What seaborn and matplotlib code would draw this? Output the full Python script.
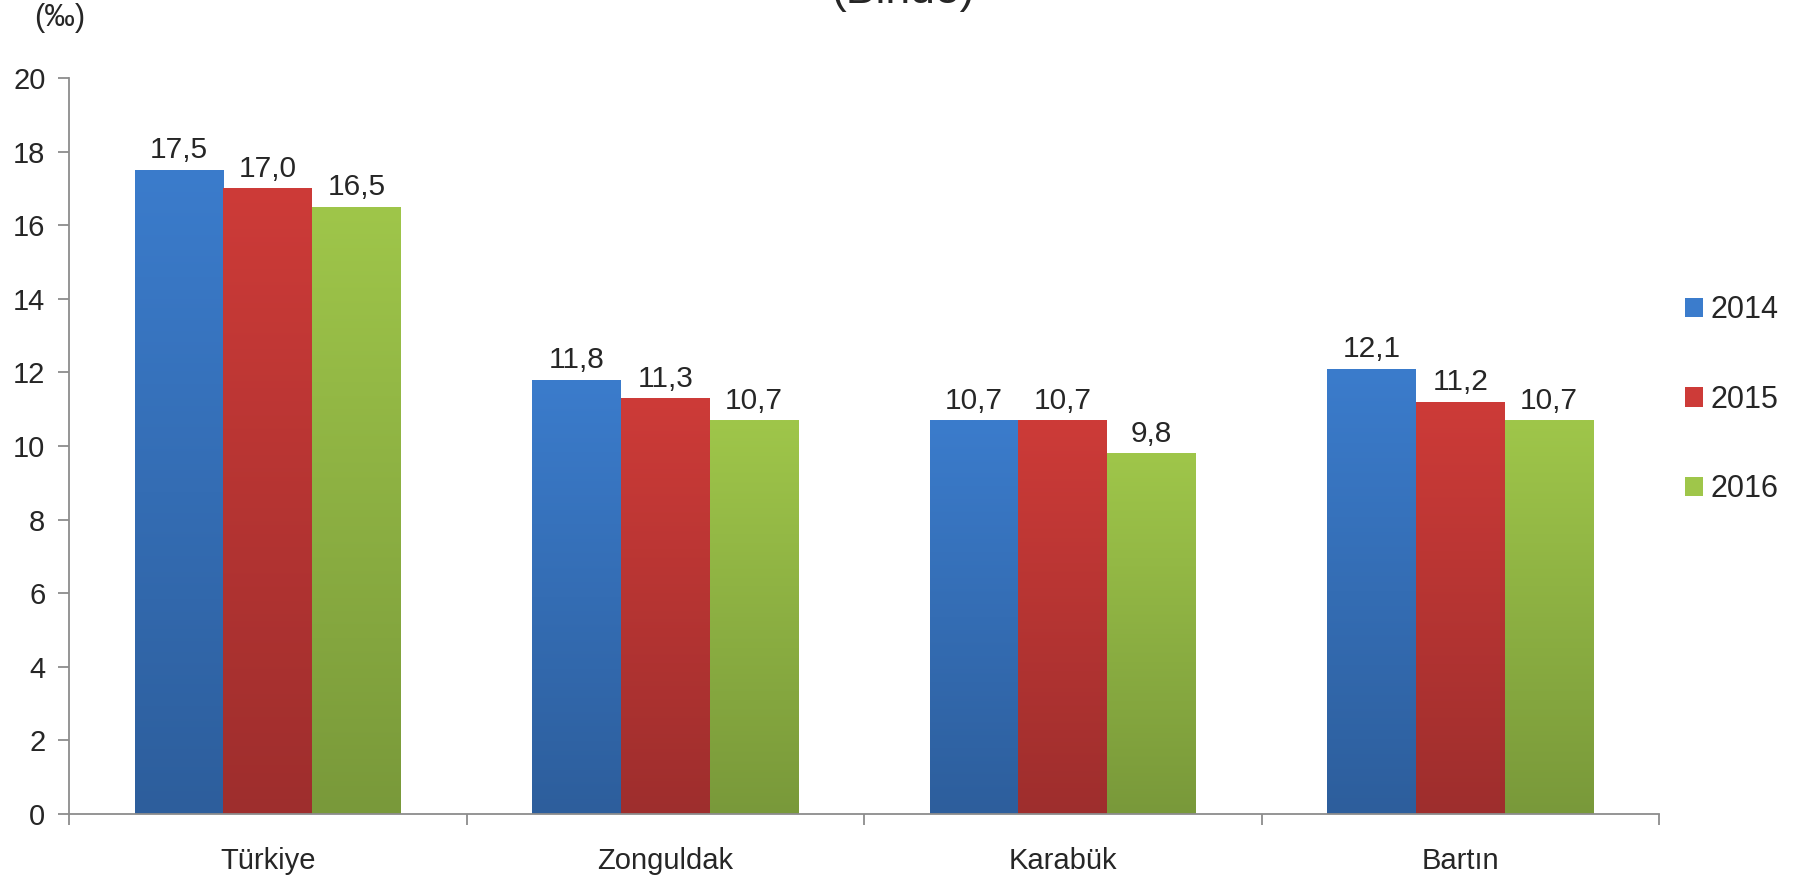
import numpy as np
import pandas as pd
import matplotlib.pyplot as plt
import seaborn as sns
from matplotlib.colors import LinearSegmentedColormap
from matplotlib.patches import Patch

sns.set_theme(style="white")
plt.rcParams['font.family'] = ['Liberation Sans', 'DejaVu Sans']

regions = ['Türkiye', 'Zonguldak', 'Karabük', 'Bartın']
years = ['2014', '2015', '2016']
v2014 = [17.5, 11.8, 10.7, 12.1]
v2015 = [17.0, 11.3, 10.7, 11.2]
v2016 = [16.5, 10.7, 9.8, 10.7]

# top (light) and bottom (dark) colour of each series
tops = {'2014': '#3B7CCC', '2015': '#CD3B38', '2016': '#9FC64A'}
bottoms = {'2014': '#2D5E9C', '2015': '#9E2E2D', '2016': '#79993A'}

df = pd.DataFrame({
    'Bölge': regions * 3,
    'Yıl': sum([[y] * len(regions) for y in years], []),
    'Değer': v2014 + v2015 + v2016,
})

fig = plt.figure(figsize=(17.98, 8.75), dpi=100)
ax = fig.add_axes([0.0384, 0.0697, 0.8843, 0.8412])

sns.barplot(data=df, x='Bölge', y='Değer', hue='Yıl', hue_order=years,
            palette=tops, width=0.67, errorbar=None, legend=False, ax=ax)

# gradient fill for every bar, clipped to its rectangle
for container, yr in zip(ax.containers, years):
    cmap = LinearSegmentedColormap.from_list(yr, [bottoms[yr], tops[yr]])
    grad = np.linspace(0, 1, 256).reshape(-1, 1)
    for bar in container:
        x0, w, h = bar.get_x(), bar.get_width(), bar.get_height()
        im = ax.imshow(grad, cmap=cmap, origin='lower', aspect='auto',
                       extent=(x0, x0 + w, 0, h), zorder=bar.get_zorder())
        im.set_clip_path(bar)
        bar.set_facecolor('none')
        bar.set_edgecolor('none')
    labels = [f'{b.get_height():.1f}'.replace('.', ',') for b in container]
    ax.bar_label(container, labels=labels, padding=4, fontsize=21.5)

ax.set_xlim(-0.5, len(regions) - 0.5)
ax.set_ylim(0, 20)

sns.despine(ax=ax)
for s in ['left', 'bottom']:
    ax.spines[s].set_color('#8C8C8C')
    ax.spines[s].set_linewidth(1.3)

ax.set_yticks(range(0, 21, 2))
ax.tick_params(axis='y', which='major', left=True, length=8, width=1.3,
               color='#8C8C8C', labelsize=21, pad=9)
ax.set_xticks(np.arange(-0.5, len(regions)), minor=True)
ax.tick_params(axis='x', which='minor', bottom=True, length=8, width=1.3,
               color='#8C8C8C')
ax.tick_params(axis='x', which='major', bottom=False, labelsize=21, pad=18)
ax.set_xlabel('')
ax.set_ylabel('')

fig.text(0.019, 0.979, '(‰)', fontsize=22, va='center', ha='left')
fig.text(0.502, 0.997, '(Binde)', fontsize=32, ha='center', va='baseline')

handles = [Patch(facecolor=tops[y], edgecolor='none') for y in years]
fig.legend(handles, years, loc='center left', bbox_to_anchor=(0.937, 0.543),
           frameon=False, fontsize=22, handlelength=0.6, handleheight=0.6,
           handletextpad=0.25, labelspacing=1.95, borderpad=0, borderaxespad=0)

plt.savefig('out.png', dpi=100)
